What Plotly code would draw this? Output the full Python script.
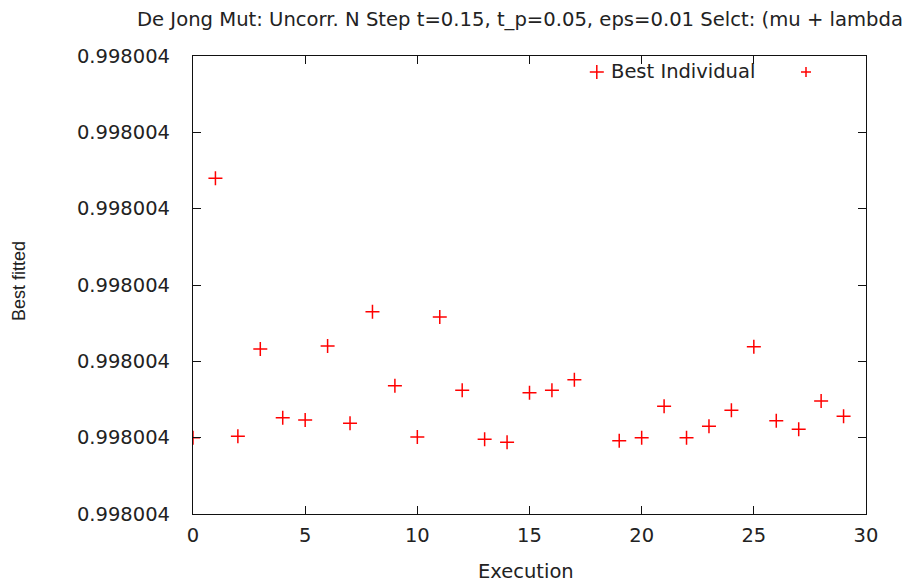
import plotly.graph_objects as go

# Data
executions = [0, 1, 2, 3, 4, 5, 6, 7, 8, 9, 10, 11, 12, 13, 14,
              15, 16, 17, 18, 19, 20, 21, 22, 23, 24, 25, 26, 27, 28, 29]
best_fitted = [0.99800400100, 0.99800400440, 0.99800400102, 0.99800400216,
               0.99800400126, 0.99800400123, 0.99800400220, 0.99800400119,
               0.99800400265, 0.99800400168, 0.99800400101, 0.99800400258,
               0.99800400162, 0.99800400098, 0.99800400094, 0.99800400159,
               0.99800400162, 0.99800400176, 0.99800400579, 0.99800400096,
               0.99800400100, 0.99800400141, 0.99800400100, 0.99800400115,
               0.99800400136, 0.99800400219, 0.99800400122, 0.99800400111,
               0.99800400148, 0.99800400128]
y_ticks = [0.998004000, 0.998004001, 0.998004002, 0.998004003,
           0.998004004, 0.998004005, 0.998004006]
x_ticks = [0, 5, 10, 15, 20, 25, 30]

title_text = "De Jong Mut: Uncorr. N Step t=0.15, t_p=0.05, eps=0.01 Selct: (mu + lambda"
series_name = "Best Individual"

FONT = "DejaVu Sans"
TXT = "#222222"
BODY = 8                      # default page margin around the plot div
W, H = 914 - BODY, 583 - BODY
PL, PR, PT, PB = 193, 866, 56, 514   # plot box in page pixels
L, T = PL - BODY, PT - BODY
R = W - L - (PR - PL)
B = H - T - (PB - PT)
pw, ph = PR - PL, PB - PT


def px_x(p):
    return (p - PL) / pw


def px_y(p):
    return (PB - p) / ph


fig = go.Figure()
fig.add_trace(go.Scatter(
    x=executions, y=best_fitted, mode="markers", name=series_name,
    marker=dict(symbol="cross-thin", size=10, color="red",
                line=dict(color="red", width=1.5)),
    showlegend=False,
))

axis_common = dict(
    showline=True, linecolor="#111111", linewidth=1.2, mirror="allticks",
    ticks="inside", ticklen=8, tickcolor="#111111", tickwidth=1,
    showgrid=False, zeroline=False,
    tickfont=dict(family=FONT, size=19.5, color=TXT),
)

fig.update_layout(
    width=W, height=H,
    margin=dict(l=L, r=R, t=T, b=B),
    paper_bgcolor="white", plot_bgcolor="white",
    xaxis=dict(range=[0, 30], tickvals=x_ticks, ticklabelstandoff=3, **axis_common),
    yaxis=dict(range=[y_ticks[0], y_ticks[-1]], tickvals=y_ticks,
               tickformat=".6f", ticklabelstandoff=18, **axis_common),
    annotations=[
        dict(text=title_text, xref="paper", yref="paper",
             x=px_x(135), y=px_y(19), xanchor="left", yanchor="middle",
             showarrow=False, font=dict(family=FONT, size=19.6, color=TXT)),
        dict(text="Execution", xref="paper", yref="paper",
             x=px_x(526), y=px_y(571), xanchor="center", yanchor="middle",
             showarrow=False, font=dict(family=FONT, size=19.5, color=TXT)),
        dict(text="Best fitted", xref="paper", yref="paper",
             x=px_x(19), y=px_y(281), xanchor="center", yanchor="middle",
             textangle=-90, showarrow=False,
             font=dict(family="Liberation Sans", size=18, color=TXT)),
        dict(text=series_name, xref="paper", yref="paper",
             x=px_x(757), y=px_y(72), xanchor="right", yanchor="middle",
             showarrow=False, font=dict(family=FONT, size=19.5, color=TXT)),
    ],
    shapes=[
        dict(type="line", xref="paper", yref="paper",
             x0=px_x(801), x1=px_x(811), y0=px_y(72), y1=px_y(72),
             line=dict(color="red", width=1.5)),
        dict(type="line", xref="paper", yref="paper",
             x0=px_x(806), x1=px_x(806), y0=px_y(67), y1=px_y(77),
             line=dict(color="red", width=1.5)),
    ],
)

fig.write_html("out.html")
